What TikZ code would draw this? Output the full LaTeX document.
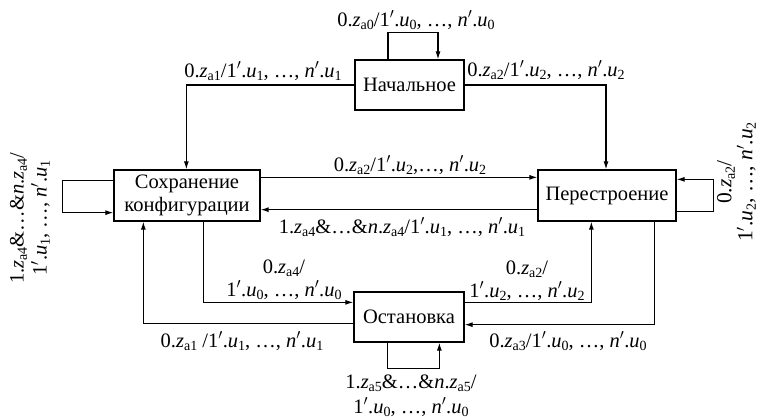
\documentclass[tikz,border=0pt]{standalone}
\usepackage{fontspec}
\setmainfont{Liberation Serif}
\usetikzlibrary{arrows.meta,calc}
\newcommand\sbs[1]{\raisebox{-0.35ex}{\fontsize{14}{14}\selectfont #1}}
\newcommand\zz[1]{\textit{z}\sbs{#1}}
\newcommand\uu[1]{\textit{u}\sbs{#1}}
\newcommand\pr{$'$}
\newcommand\nn{\textit{n}}
\tikzset{
  box/.style={draw, line width=1.3pt, inner sep=0pt, align=center, font=\fontsize{20.5}{23}\selectfont},
  arr/.style={line width=1.1pt, -{Latex[length=8pt,width=5pt]}},
  lbl/.style={anchor=base, inner sep=0pt, align=center, font=\fontsize{20.5}{23}\selectfont},
  rlbl/.style={inner sep=0pt, align=center, rotate=90, font=\fontsize{20.5}{23}\selectfont}
}
\begin{document}
\begin{tikzpicture}[x=1pt,y=-1pt]
\useasboundingbox (0,0) rectangle (759,418);
\node[box, minimum width=109pt, minimum height=50pt] (nach) at (409.5,85) {Начальное};
\node[box, minimum width=146pt, minimum height=51pt] (sokh) at (187,195.5) {Сохранение\\конфигурации};
\node[box, minimum width=138pt, minimum height=51pt] (per) at (607,195.5) {Перестроение};
\node[box, minimum width=110pt, minimum height=50pt] (ost) at (409,317) {Остановка};

% connectors
\draw[arr] ($(nach.north)+(-21.5,0)$) -- ++(0,-27) -| ($(nach.north)+(28.5,0)$);
\draw[arr] (nach.west) -| ($(sokh.north west)+(73,0)$);
\draw[arr] (nach.east) -| ($(per.north)+(-1,0)$);
\draw[arr] ($(sokh.north east)+(0,8)$) -- ($(per.north west)+(0,8)$);
\draw[arr] ($(per.south west)+(0,-12)$) -- ($(sokh.south east)+(0,-12)$);
\draw[arr] ($(sokh.north west)+(0,11)$) -- ++(-51,0) |- ($(sokh.south west)+(0,-9)$);
\draw[arr] ($(per.south east)+(0,-10)$) -- ++(37,0) |- ($(per.north east)+(0,10)$);
\draw[arr] ($(sokh.south west)+(90,0)$) |- ($(ost.north west)+(0,11)$);
\draw[arr] ($(ost.south west)+(0,-19)$) -| ($(sokh.south west)+(30,0)$);
\draw[arr] ($(ost.north east)+(0,11)$) -| ($(per.south west)+(54,0)$);
\draw[arr] ($(per.south west)+(117,0)$) |- ($(ost.south east)+(0,-18)$);
\draw[arr] ($(ost.south west)+(34,0)$) -- ++(0,26) -| ($(ost.south west)+(86,0)$);

% labels
\node[lbl] (l0) at (416,26) {0.\zz{a0}/1\pr.\uu{0}, …, \nn\pr.\uu{0}};
\node[lbl] (l1) at (263,77) {0.\zz{a1}/1\pr.\uu{1}, …, \nn\pr.\uu{1}};
\node[lbl] (l2) at (546,76) {0.\zz{a2}/1\pr.\uu{2}, …, \nn\pr.\uu{2}};
\node[lbl] (l3) at (410,171) {0.\zz{a2}/1\pr.\uu{2},…, \nn\pr.\uu{2}};
\node[lbl] (l4) at (402,233) {1.\zz{a4}\&…\&\nn.\zz{a4}/1\pr.\uu{1}, …, \nn\pr.\uu{1}};
\node[lbl] (l5) at (284,296) {0.\zz{a4}/\\1\pr.\uu{0}, …, \nn\pr.\uu{0}};
\node[lbl] (l6) at (527,297) {0.\zz{a2}/\\1\pr.\uu{2}, …, \nn\pr.\uu{2}};
\node[lbl] (l7) at (242,347) {0.\zz{a1} /1\pr.\uu{1}, …, \nn\pr.\uu{1}};
\node[lbl] (l8) at (568,347) {0.\zz{a3}/1\pr.\uu{0}, …, \nn\pr.\uu{0}};
\node[lbl, font=\fontsize{20.5}{25}\selectfont] (l9) at (411,413) {1.\zz{a5}\&…\&\nn.\zz{a5}/\\1\pr.\uu{0}, …, \nn\pr.\uu{0}};
\node[rlbl] (l10) at (30,218) {1.\zz{a4}\&…\&\nn.\zz{a4}/\\1\pr.\uu{1}, …, \nn\pr.\uu{1}};
\node[rlbl, font=\fontsize{21.5}{21}\selectfont] (l11) at (736.5,182) {0.\zz{a2}/\\1\pr.\uu{2}, …, \nn\pr.\uu{2}};
\end{tikzpicture}
\end{document}
